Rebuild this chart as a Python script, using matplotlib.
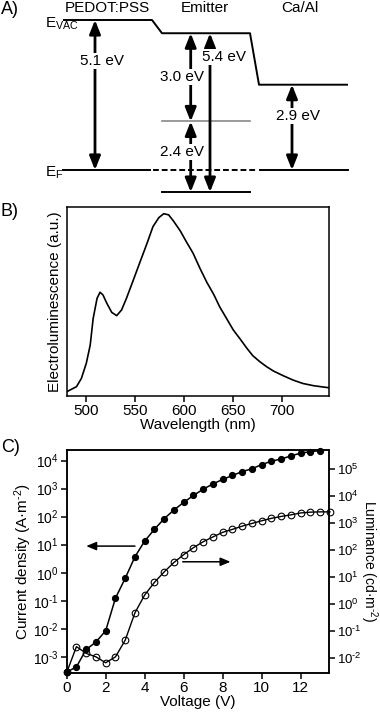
import numpy as np
import matplotlib
matplotlib.use("Agg")
import matplotlib.pyplot as plt

plt.rcParams["font.family"] = ["Liberation Sans", "DejaVu Sans"]
plt.rcParams["font.size"] = 11
plt.rcParams["mathtext.fontset"] = "custom"
plt.rcParams["mathtext.rm"] = "Liberation Sans"
plt.rcParams["mathtext.default"] = "regular"
plt.rcParams["axes.linewidth"] = 1.1

# ----------------------------------------------------
# Data
# ----------------------------------------------------

# A) energy levels (eV, relative to E_F)
layer_names = ["PEDOT:PSS", "Emitter", "Ca/Al"]
vacuum_levels = [5.1, 4.65, 2.9]
emitter_lumo_depth = 3.0
emitter_homo_depth = 5.4

# B) electroluminescence spectrum
wavelength = [480, 490, 495, 500, 504, 507, 511, 514, 517, 521, 526, 531, 536,
              541, 548, 555, 562, 568, 574, 579, 584, 589, 596, 602, 609, 616,
              623, 630, 636, 643, 650, 657, 664, 670, 677, 684, 691, 701, 711,
              721, 732, 742, 748]
el_intensity = [0.021, 0.048, 0.092, 0.172, 0.269, 0.41, 0.517, 0.549, 0.535,
                0.49, 0.442, 0.425, 0.455, 0.517, 0.614, 0.712, 0.809, 0.897,
                0.945, 0.966, 0.96, 0.927, 0.874, 0.818, 0.756, 0.676, 0.602,
                0.538, 0.473, 0.411, 0.349, 0.301, 0.251, 0.212, 0.181, 0.154,
                0.131, 0.106, 0.083, 0.065, 0.053, 0.046, 0.042]

# C) J-V-L
voltage_j = [0, 0.5, 1, 1.5, 2, 2.5, 3, 3.5, 4, 4.5, 5, 5.5, 6, 6.5, 7, 7.5, 8,
             8.5, 9, 9.5, 10, 10.5, 11, 11.5, 12, 12.5, 13]
log_current = [-3.55, -3.36, -2.74, -2.475, -2.07, -0.91, -0.2, 0.57, 1.13,
               1.55, 1.93, 2.24, 2.51, 2.76, 2.98, 3.17, 3.33, 3.47, 3.61,
               3.71, 3.86, 3.98, 4.06, 4.17, 4.27, 4.32, 4.36]
voltage_l = [0, 0.5, 1, 1.5, 2, 2.5, 3, 3.5, 4, 4.5, 5, 5.5, 6, 6.5, 7, 7.5, 8,
             8.5, 9, 9.5, 10, 10.5, 11, 11.5, 12, 12.5, 13, 13.5]
log_luminance = [-2.55, -1.59, -1.84, -1.97, -2.19, -1.97, -1.35, -0.33, 0.33,
                 0.80, 1.19, 1.54, 1.83, 2.09, 2.31, 2.49, 2.66, 2.77, 2.89,
                 2.99, 3.09, 3.18, 3.25, 3.31, 3.38, 3.41, 3.42, 3.42]

left_ticks = [-3, -2, -1, 0, 1, 2, 3, 4]
right_ticks = [-2, -1, 0, 1, 2, 3, 4, 5]

W, H = 380, 712
fig = plt.figure(figsize=(W / 100, H / 100), dpi=100)


def frac(left, top, right, bottom):
    return [left / W, 1 - bottom / H, (right - left) / W, (bottom - top) / H]


def sup(t):
    # superscript exponent with a short hyphen-like minus, as in the original
    return "10$^{%s}$" % (("\u2010%d" % -t) if t < 0 else "%d" % t)


# ----------------------------------------------------
# A) energy diagram
# ----------------------------------------------------
axA = fig.add_axes(frac(0, 0, W, 200))
axA.set_xlim(0, W)
axA.set_ylim(-1.02, 5.78)
axA.axis("off")

seg_x = [(63, 152), (162, 250), (259, 348)]
vac = vacuum_levels
xs = [seg_x[0][0], seg_x[0][1], seg_x[1][0], seg_x[1][1], seg_x[2][0], seg_x[2][1]]
ys = [vac[0], vac[0], vac[1], vac[1], vac[2], vac[2]]
axA.plot(xs, ys, color="k", lw=1.4, solid_capstyle="butt")
# Fermi level
axA.plot([seg_x[0][0], 150], [0, 0], color="k", lw=1.4)
axA.plot([153, 258], [0, 0], color="k", lw=1.4, ls=(0, (3, 1.5)))
axA.plot([260, seg_x[2][1]], [0, 0], color="k", lw=1.4)
lumo = vac[1] - emitter_lumo_depth
homo = vac[1] - emitter_homo_depth
axA.plot(seg_x[1], [lumo, lumo], color="#888888", lw=1.2)
axA.plot(seg_x[1], [homo, homo], color="k", lw=1.4)


def energy_arrow(x, y0, y1):
    axA.annotate("", xy=(x, y1), xytext=(x, y0),
                 arrowprops=dict(arrowstyle="<|-|>,head_length=0.75,head_width=0.3",
                                 mutation_scale=11, lw=2, color="k",
                                 shrinkA=0, shrinkB=0))


energy_arrow(95, 0, vac[0])
energy_arrow(190.7, lumo, vac[1])
energy_arrow(190.7, homo, lumo)
energy_arrow(210, homo, vac[1])
energy_arrow(292, 0, vac[2])

box = dict(facecolor="white", edgecolor="none", pad=0.5)
axA.text(102, 3.71, "%.1f eV" % vac[0], ha="center", va="center", bbox=box)
axA.text(182, 3.16, "%.1f eV" % emitter_lumo_depth, ha="center", va="center", bbox=box)
axA.text(182, 0.61, "%.1f eV" % (emitter_homo_depth - emitter_lumo_depth),
         ha="center", va="center", bbox=box)
axA.text(224, 3.84, "%.1f eV" % emitter_homo_depth, ha="center", va="center", bbox=box)
axA.text(298, 1.84, "%.1f eV" % vac[2], ha="center", va="center", bbox=box)

for name, xc in zip(layer_names, [107, 205, 300]):
    axA.text(xc, 5.5, name, ha="center", va="center")
axA.text(45, 4.98, "E$_{VAC}$", ha="left", va="center")
axA.text(45, -0.08, "E$_F$", ha="left", va="center")
axA.text(1, 5.45, "A)", ha="left", va="center", fontsize=13)

# ----------------------------------------------------
# B) spectrum
# ----------------------------------------------------
axB = fig.add_axes(frac(66.7, 207.3, 329.3, 395.7))
axB.plot(wavelength, el_intensity, color="k", lw=1.2)
axB.set_xlim(480, 748)
axB.set_ylim(0, 1)
axB.set_yticks([])
axB.set_xticks([500, 550, 600, 650, 700])
axB.tick_params(direction="out", length=4, width=1.1, pad=2)
axB.set_xlabel("Wavelength (nm)", labelpad=0)
axB.set_ylabel("Electroluminescence (a.u.)")
axB.yaxis.set_label_coords(-0.045, 0.5)
axB.yaxis.label.set_va("center")
fig.text(1 / W, 1 - 212 / H, "B)", ha="left", va="center", fontsize=13)

# ----------------------------------------------------
# C) J-V-L
# ----------------------------------------------------
axC = fig.add_axes(frac(66.7, 450, 329, 673))
axC.set_yscale("log")
axC.plot(voltage_j, np.power(10.0, log_current), color="k", lw=1.1,
         marker="o", ms=4.2, mfc="k", mec="k", clip_on=False, zorder=3)
axC.set_xlim(0, 13.45)
axC.set_ylim(10 ** -3.58, 10 ** 4.38)
axC.set_xticks(range(0, 13, 2))
axC.set_yticks([10.0 ** t for t in left_ticks])
axC.set_yticklabels([sup(t) for t in left_ticks])
axC.minorticks_off()
axC.tick_params(direction="out", length=4, width=1.1, pad=2)
axC.tick_params(axis="y", labelsize=10)
axC.set_xlabel("Voltage (V)", labelpad=0)
axC.set_ylabel("Current density (A·m$^{\u20102}$)")
axC.yaxis.set_label_coords(-0.165, 0.5)
axC.yaxis.label.set_va("center")

axL = axC.twinx()
axL.set_yscale("log")
axL.plot(voltage_l, np.power(10.0, log_luminance), color="k", lw=1.0,
         marker="o", ms=4.8, mfc="none", mec="k", mew=0.8, clip_on=False, zorder=3)
axL.set_ylim(10 ** -2.57, 10 ** 5.72)
axL.set_yticks([10.0 ** t for t in right_ticks])
axL.set_yticklabels([sup(t) for t in right_ticks])
axL.minorticks_off()
axL.tick_params(direction="out", length=4, width=1.1, pad=2, labelsize=9.5)
axL.set_ylabel("Luminance (cd·m$^{\u20102}$)", rotation=270, fontsize=10)
axL.yaxis.set_label_coords(1.153, 0.5)
axL.yaxis.label.set_va("center")

axC.annotate("", xy=(1.0, 10 ** 0.95), xytext=(3.5, 10 ** 0.95),
             arrowprops=dict(arrowstyle="-|>,head_length=0.6,head_width=0.25",
                             mutation_scale=10, lw=1.1, color="k",
                             shrinkA=0, shrinkB=0))
axC.annotate("", xy=(8.4, 10 ** 0.39), xytext=(5.95, 10 ** 0.39),
             arrowprops=dict(arrowstyle="-|>,head_length=0.6,head_width=0.25",
                             mutation_scale=10, lw=1.1, color="k",
                             shrinkA=0, shrinkB=0))
fig.text(1 / W, 1 - 448 / H, "C)", ha="left", va="center", fontsize=13)

fig.savefig("out.png", dpi=100)
